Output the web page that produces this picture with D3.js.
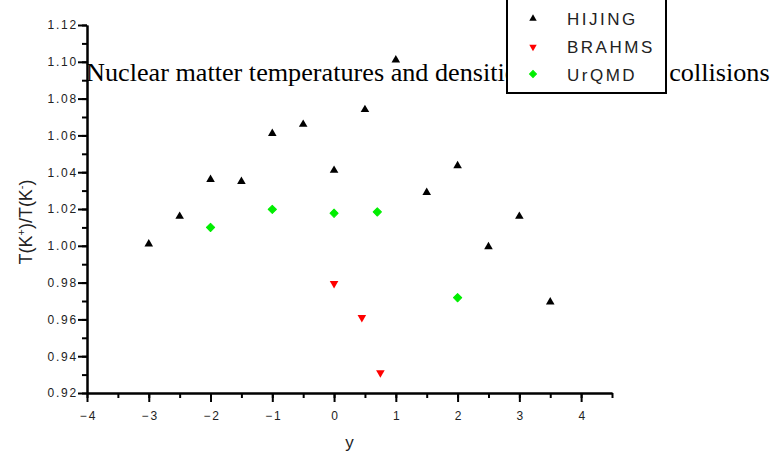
<!DOCTYPE html>
<html lang="en">
<head>
    <meta charset="UTF-8">
    <style>
        body { margin: 0; background: #fff; }
        .tick text { font-family: Arial, "Liberation Sans", sans-serif; font-size: 12px; letter-spacing: 1.8px; fill: #222; }
        .domain, .tick line { stroke: #000; stroke-width: 2px; }
    </style>
    <script src="https://d3js.org/d3.v7.min.js"></script>
</head>
<body>
    <div id="my_dataviz"></div>

    <script>
        // data
        var hijingX = [-3, -2.5, -2, -1.5, -1, -0.5, 0, 0.5, 1, 1.5, 2, 2.5, 3, 3.5];
        var hijingT = [1.001, 1.016, 1.036, 1.035, 1.061, 1.066, 1.041, 1.074, 1.101, 1.029, 1.0435, 0.9995, 1.016, 0.9695];
        var brahmsX = [0, 0.45, 0.75];
        var brahmsT = [0.9795, 0.961, 0.931];
        var urqmdX = [-2, -1, 0, 0.7, 2];
        var urqmdT = [1.010, 1.0198, 1.0177, 1.0184, 0.9718];

        var xMajor = [-4, -3, -2, -1, 0, 1, 2, 3, 4];
        var yMajor = [0.92, 0.94, 0.96, 0.98, 1.00, 1.02, 1.04, 1.06, 1.08, 1.10, 1.12];

        var W = 777, H = 455;

        var svg = d3.select("#my_dataviz")
            .append("svg")
            .attr("width", W)
            .attr("height", H);

        var x = d3.scaleLinear().domain([-4, 4.5]).range([87, 612]);
        var y = d3.scaleLinear().domain([0.92, 1.12]).range([393, 25]);

        // minor ticks first
        svg.append("g")
            .attr("transform", "translate(0,393)")
            .call(d3.axisBottom(x).tickValues(d3.range(-4, 4.51, 0.5)).tickSize(5).tickSizeOuter(0).tickFormat(""));
        svg.append("g")
            .attr("transform", "translate(87,0)")
            .call(d3.axisLeft(y).tickValues(d3.range(0.92, 1.1201, 0.01)).tickSize(5).tickSizeOuter(0).tickFormat(""));

        // major ticks with labels
        svg.append("g")
            .attr("transform", "translate(0,393)")
            .call(d3.axisBottom(x).tickValues(xMajor).tickSize(9).tickPadding(9).tickSizeOuter(0).tickFormat(d3.format("d")))
            .selectAll("text").attr("dx", "1px");
        svg.append("g")
            .attr("transform", "translate(87,0)")
            .call(d3.axisLeft(y).tickValues(yMajor).tickSize(9).tickPadding(0).tickSizeOuter(0).tickFormat(d3.format(".2f")));

        // axis titles
        svg.append("text")
            .attr("x", 349.5)
            .attr("y", 448)
            .attr("text-anchor", "middle")
            .style("font-family", "Arial, 'Liberation Sans', sans-serif")
            .style("font-size", "17px")
            .style("fill", "#222")
            .text("y");

        var ylab = svg.append("text")
            .attr("transform", "translate(32,222)rotate(-90)")
            .attr("text-anchor", "middle")
            .style("font-family", "Arial, 'Liberation Sans', sans-serif")
            .style("font-size", "18px")
            .style("fill", "#222");
        ylab.append("tspan").text("T(K");
        ylab.append("tspan").attr("dy", -7).style("font-size", "11px").text("+");
        ylab.append("tspan").attr("dy", 7).text(")/T(K");
        ylab.append("tspan").attr("dy", -7).style("font-size", "11px").text("-");
        ylab.append("tspan").attr("dy", 7).text(")");

        // title (partly hidden by the legend)
        svg.append("text")
            .attr("x", 86)
            .attr("y", 81)
            .style("font-family", "'Times New Roman', 'Liberation Serif', serif")
            .style("font-size", "26.2px")
            .style("fill", "#000")
            .text("Nuclear matter temperatures and densities in heavy ion collisions");

        function pts(xs, ts) {
            return xs.map(function (v, i) { return { x: v, t: ts[i] }; });
        }

        var tri = d3.symbol().type(d3.symbolTriangle).size(32);
        var sq = d3.symbol().type(d3.symbolSquare).size(34);

        svg.selectAll("hijing")
            .data(pts(hijingX, hijingT))
            .enter()
            .append("path")
            .attr("d", tri)
            .attr("transform", function (d) { return "translate(" + x(d.x) + "," + y(d.t) + ")"; })
            .style("fill", "#000");

        svg.selectAll("brahms")
            .data(pts(brahmsX, brahmsT))
            .enter()
            .append("path")
            .attr("d", tri)
            .attr("transform", function (d) { return "translate(" + x(d.x) + "," + y(d.t) + ")rotate(180)"; })
            .style("fill", "#ff0000");

        svg.selectAll("urqmd")
            .data(pts(urqmdX, urqmdT))
            .enter()
            .append("path")
            .attr("d", sq)
            .attr("transform", function (d) { return "translate(" + x(d.x) + "," + y(d.t) + ")rotate(45)"; })
            .style("fill", "#00ee00")
            .style("stroke", "#00ee00")
            .style("stroke-width", 1)
            .style("stroke-linejoin", "round");

        // legend
        var leg = svg.append("g");
        leg.append("rect")
            .attr("x", 507)
            .attr("y", -3)
            .attr("width", 159)
            .attr("height", 96)
            .style("fill", "#fff")
            .style("stroke", "#000")
            .style("stroke-width", 2);

        var legItems = [
            { name: "HIJING", color: "#000", rot: 0, shape: tri },
            { name: "BRAHMS", color: "#ff0000", rot: 180, shape: tri },
            { name: "UrQMD", color: "#00ee00", rot: 45, shape: sq }
        ];
        var legSym = [18.5, 47, 74];
        var legBase = [25, 53, 81];

        leg.selectAll("legsym")
            .data(legItems)
            .enter()
            .append("path")
            .attr("d", function (d) { return d.shape.size(d.rot === 45 ? 24 : 24)(); })
            .attr("transform", function (d, i) { return "translate(533," + legSym[i] + ")rotate(" + d.rot + ")"; })
            .style("fill", function (d) { return d.color; })
            .style("stroke", function (d) { return d.rot === 45 ? d.color : "none"; })
            .style("stroke-width", 1);

        leg.selectAll("legtext")
            .data(legItems)
            .enter()
            .append("text")
            .attr("x", 567)
            .attr("y", function (d, i) { return legBase[i]; })
            .style("font-family", "Arial, 'Liberation Sans', sans-serif")
            .style("font-size", "17px")
            .style("letter-spacing", "2.5px")
            .style("fill", "#222")
            .text(function (d) { return d.name; });
    </script>
</body>
</html>
